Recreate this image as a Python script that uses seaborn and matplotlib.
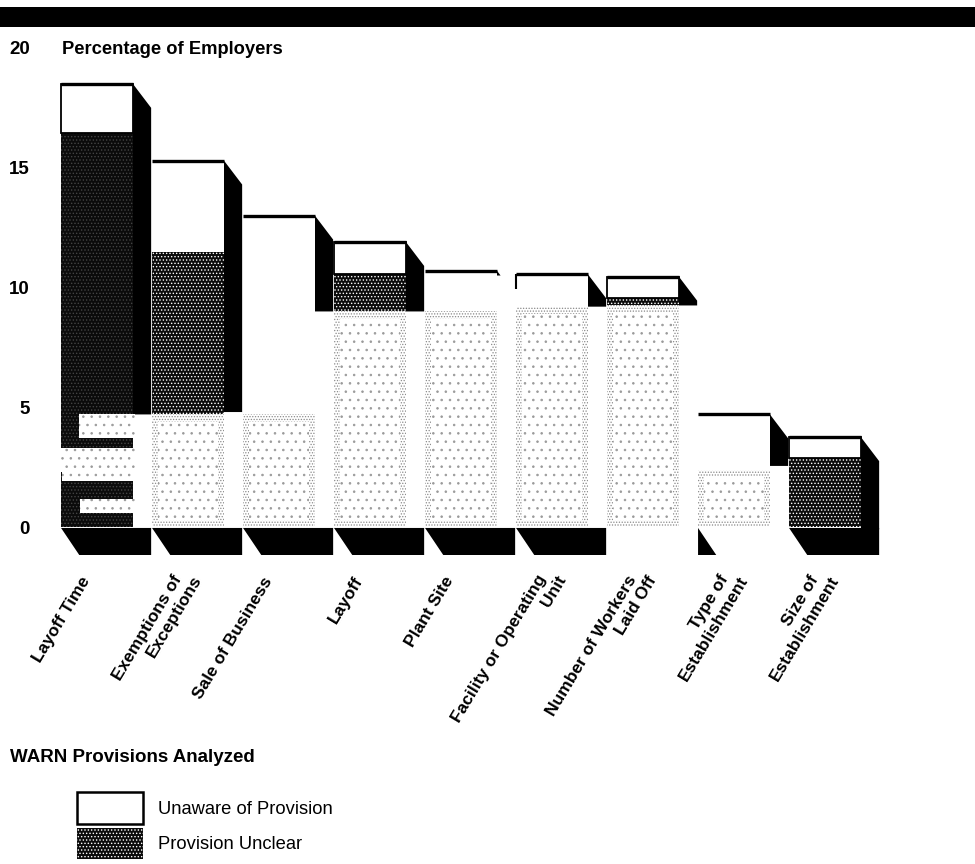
import numpy as np
import matplotlib
matplotlib.use("Agg")
import matplotlib.pyplot as plt
from matplotlib.patches import Patch, Polygon, Rectangle
from matplotlib.transforms import Affine2D
import seaborn as sns

sns.set_theme(style="white")
plt.rcParams["font.family"] = ["Liberation Sans", "DejaVu Sans"]
plt.rcParams["hatch.linewidth"] = 0.6

# Provisions, ordered by total share of employers
categories = ["Layoff Time", "Exemptions of Exceptions", "Sale of Business", "Layoff", "Plant Site",
              "Facility or Operating Unit", "Number of Workers Laid Off", "Type of Establishment",
              "Size of Establishment"]
tick_labels = ["Layoff Time", "Exemptions of  \nExceptions", "Sale of Business", "Layoff", "Plant Site",
               "Facility or Operating  \nUnit", "Number of Workers  \nLaid Off", "Type of  \nEstablishment",
               "Size of  \nEstablishment"]

# Levels along each column, in percentage of employers
total = [18.5, 15.3, 13.0, 11.9, 10.7, 10.55, 10.45, 4.7, 3.75]
unclear_top = [16.45, 11.5, 0, 10.55, 0, 0, 9.55, 0, 2.9]
unclear_base = [0, 4.7, 0, 9.0, 0, 0, 9.25, 0, 0]
faded_top = [0, 4.7, 4.7, 9.0, 9.0, 9.2, 9.25, 2.4, 0]
side_floor = [4.7, 4.8, 9.0, 9.0, 10.5, 9.2, 9.25, 2.55, -0.1]
floor_extent = [1, 1, 1, 1, 1, 1, 0, 0.19, 1]
boxed = [0, 3, 6, 8]

# Worn-through bands of the first column: low, high, share of the width left dark
worn_low = [0.6, 1.9, 2.3, 3.7]
worn_high = [1.15, 2.3, 3.3, 4.7]
worn_left = [0.27, 0.02, 0.0, 0.25]

y_ticks = [0, 5, 10, 15, 20]
legend_labels = ["Unaware of Provision", "Provision Unclear"]

W, H = 975, 864
fig = plt.figure(figsize=(W / 100, H / 100), dpi=100)
left_px, top_px, bottom_px = 30, 48, 527
ax = fig.add_axes([left_px / W, 1 - bottom_px / H, (W - left_px) / W, (bottom_px - top_px) / H])
ax.patch.set_alpha(0)
fig.add_artist(Rectangle((0, 1 - 27 / H), 1, 20 / H, transform=fig.transFigure, color="black", lw=0))

n = len(categories)
bar_w = 0.79
depth_x, depth_y = 0.2, 1.0
total = np.array(total)
unclear_top = np.array(unclear_top)
unclear_base = np.array(unclear_base)
faded_top = np.array(faded_top)
has_dark = unclear_top > 0
white_base = np.maximum(unclear_top, faded_top)

# Black side faces go underneath the columns
for i in range(n):
    x1 = i + bar_w / 2
    drop = total[i] - side_floor[i]
    if drop >= depth_y:
        pts = [(x1, total[i]), (x1 + depth_x, total[i] - depth_y), (x1 + depth_x, side_floor[i]), (x1, side_floor[i])]
    else:
        pts = [(x1, total[i]), (x1 + depth_x * drop / depth_y, side_floor[i]), (x1, side_floor[i])]
    ax.add_patch(Polygon(pts, closed=True, color="black", lw=0, clip_on=False, zorder=1))

# Black floor under the columns
for i in range(n):
    if floor_extent[i] == 0:
        continue
    x0 = i - bar_w / 2
    full = bar_w + depth_x
    floor_y = -0.04
    low = -28 / 23.95
    if floor_extent[i] == 1:
        pts = [(x0, floor_y), (x0 + depth_x, low), (x0 + full, low), (x0 + full, floor_y)]
    else:
        pts = [(x0, floor_y), (x0 + depth_x, low), (x0, low)]
    ax.add_patch(Polygon(pts, closed=True, color="black", lw=0, clip_on=False, zorder=1))

common = dict(x=categories, width=bar_w, saturation=1, ax=ax, order=categories)

# Faded stipple in the lower part
sns.barplot(y=faded_top, color="white", hatch="......", edgecolor="#8a8a8a", linewidth=0, zorder=2, **common)
for i, p in enumerate(ax.containers[-1]):
    if faded_top[i] > 0:
        sx, sw = p.get_x() + 0.07, p.get_width() - 0.14
        ax.add_patch(Rectangle((sx, 0.3), sw, faded_top[i] - 0.6, facecolor="white", edgecolor="#9a9a9a",
                               hatch="..", linewidth=0, zorder=2.5))

# Provision Unclear
sns.barplot(y=unclear_top - unclear_base, bottom=unclear_base, color="#0b0b0b", hatch=".....",
            edgecolor="white", linewidth=0, zorder=3, **common)
for i, p in enumerate(ax.containers[-1]):
    p.set_zorder(3)
    if i == 0:
        p.set_edgecolor("#444444")

# Worn bands of the first column
for lo, hi, frac in zip(worn_low, worn_high, worn_left):
    x_left = -bar_w / 2 + bar_w * frac
    ax.bar(x_left, hi - lo, bottom=lo, width=bar_w * (1 - frac) + 0.02, align="edge", color="white",
           hatch="..", edgecolor="#9a9a9a", linewidth=0, zorder=3.2)

# Unaware of Provision, plus the blank stretch above the stipple
sns.barplot(y=total - white_base, bottom=white_base, color="white", linewidth=0, zorder=4, **common)
for i, p in enumerate(ax.containers[-1]):
    p.set_zorder(4)
    if i in boxed and has_dark[i]:
        p.set_edgecolor("black")
        p.set_linewidth(1.3)

# Heavy upper edge and the short stub on the sixth column
ax.hlines(total, np.arange(n) - bar_w / 2, np.arange(n) + bar_w / 2, color="black", lw=2.4, zorder=5)
ax.vlines(5 - bar_w / 2, 9.95, total[5], color="black", lw=1.5, zorder=5)

ax.set_xlim(-(97 - left_px) / 91, (W - 97) / 91)
ax.set_ylim(0, 20)
ax.set_yticks(y_ticks)
ax.set_yticklabels([str(v) for v in y_ticks], fontsize=13.5, fontweight="bold", color="black")
ax.tick_params(axis="y", length=0, pad=0)
ax.tick_params(axis="x", length=0, pad=34)
ax.set_xlabel("")
ax.set_ylabel("")
ax.set_xticks(range(n))
ax.set_xticklabels(tick_labels, rotation=59, ha="right", va="top", rotation_mode="anchor", ma="right",
                   fontsize=12.5, fontweight="bold", color="black")
for lab in ax.get_xticklabels():
    two_lines = "\n" in lab.get_text()
    lab.set_transform(lab.get_transform() + Affine2D().translate(-11 if two_lines else -17, 10 if two_lines else 0))
sns.despine(ax=ax, left=True, bottom=True)

fig.text(62 / W, 1 - 50 / H, "Percentage of Employers", fontsize=13.25, fontweight="bold", va="center", color="black")
fig.text(10 / W, 1 - 757 / H, "WARN Provisions Analyzed", fontsize=13.5, fontweight="bold", va="center", color="black")

handles = [Patch(facecolor="white", edgecolor="black", linewidth=1.8),
           Patch(facecolor="#0b0b0b", edgecolor="white", hatch=".....", linewidth=0)]
fig.legend(handles, legend_labels, loc="upper left", bbox_to_anchor=(77 / W, 1 - 792 / H), borderaxespad=0,
           borderpad=0, frameon=False, fontsize=13.2, handlelength=3.6, handleheight=2.3,
           handletextpad=0.8, labelspacing=0.2, labelcolor="black")

fig.savefig("out.png", dpi=100)
